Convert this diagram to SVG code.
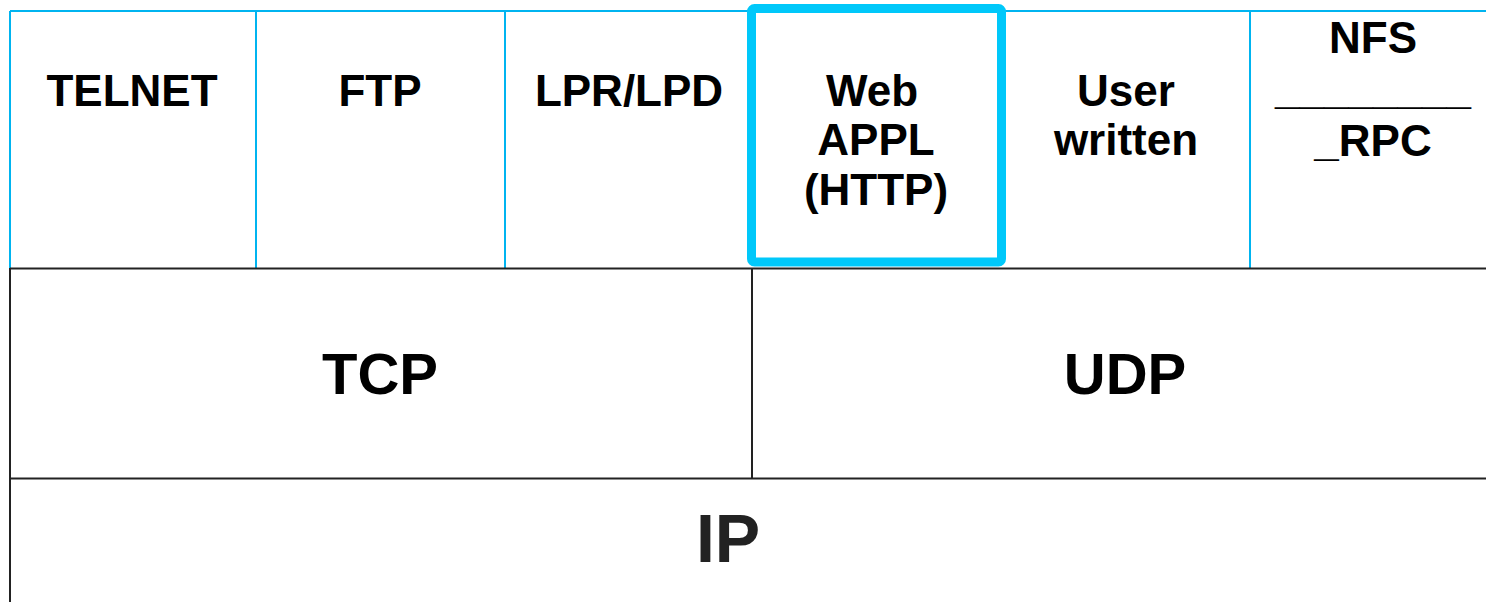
<svg xmlns="http://www.w3.org/2000/svg" width="1486" height="602" viewBox="0 0 1486 602">
<style>
.t{font-family:"Liberation Sans",Arial,sans-serif;font-weight:bold;text-anchor:middle;fill:#000}
.s{font-size:44px}
.b{font-size:58px}
.blue{stroke:#00b4f0;stroke-width:2;fill:none}
.blk{stroke:#222;stroke-width:2;fill:none}
</style>
<rect width="1486" height="602" fill="#fff"/>
<g id="connectors">
<line class="blue" x1="10" y1="11" x2="1486" y2="11"/>
<line class="blue" x1="10" y1="11" x2="10" y2="268"/>
<line class="blue" x1="256" y1="11" x2="256" y2="268"/>
<line class="blue" x1="505" y1="11" x2="505" y2="268"/>
<line class="blue" x1="1250" y1="11" x2="1250" y2="268"/>
<line class="blk" x1="10" y1="268.5" x2="1486" y2="268.5"/>
<line class="blk" x1="10" y1="478.5" x2="1486" y2="478.5"/>
<line class="blk" x1="10" y1="268" x2="10" y2="602"/>
<line class="blk" x1="752" y1="268" x2="752" y2="478"/>
</g>
<g id="telnet"><text class="t s" x="132" y="106">TELNET</text></g>
<g id="ftp"><text class="t s" x="380" y="106">FTP</text></g>
<g id="lpr"><text class="t s" x="629" y="106">LPR/LPD</text></g>
<g id="web">
<rect x="751.5" y="8.5" width="250" height="253.5" rx="3" fill="none" stroke="#00c8fa" stroke-width="9"/>
<text class="t s" x="872" y="106">Web</text>
<text class="t s" x="876" y="155">APPL</text>
<text class="t s" x="876" y="205">(HTTP)</text>
</g>
<g id="user">
<text class="t s" x="1126" y="106">User</text>
<text class="t s" x="1126" y="155">written</text>
</g>
<g id="nfs">
<text class="t s" x="1373" y="53">NFS</text>
<text class="t s" x="1373" y="104">________</text>
<text class="t s" x="1373" y="156">_RPC</text>
</g>
<g id="tcp"><text class="t b" x="380" y="394">TCP</text></g>
<g id="udp"><text class="t b" x="1125" y="394">UDP</text></g>
<g id="ip"><text class="t" x="728" y="562" style="font-size:68px;fill:#222">IP</text></g>
</svg>
